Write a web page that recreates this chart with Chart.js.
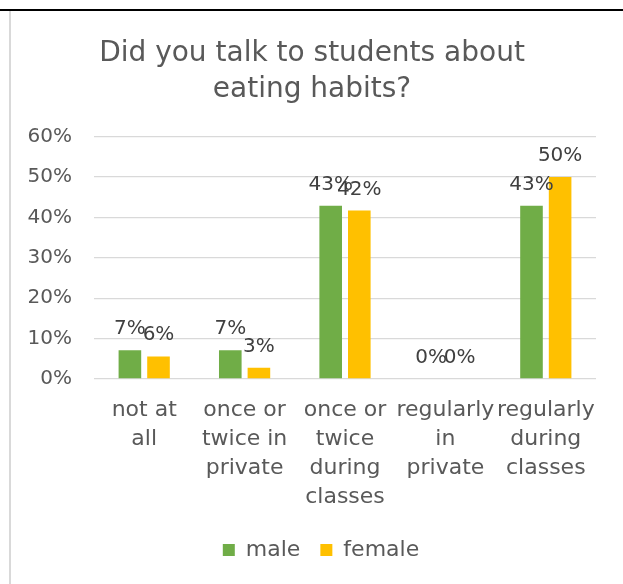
<!DOCTYPE html>
<html>
<head>
<meta charset="utf-8">
<script src="https://cdn.jsdelivr.net/npm/chart.js@4/dist/chart.umd.min.js"></script>
<style>
  html, body { margin: 0; padding: 0; background: #fff; }
  body { width: 623px; height: 584px; position: relative; overflow: hidden; }
  #topline { position: absolute; left: 0; top: 9px; width: 623px; height: 2px; background: #000; }
  #leftline { position: absolute; left: 9px; top: 11px; width: 2px; height: 573px; background: #d9d9d9; }
  #box { position: absolute; left: 11px; top: 12px; width: 612px; height: 572px; }
</style>
</head>
<body>
<div id="topline"></div>
<div id="leftline"></div>
<div id="box"><canvas id="chart-area"></canvas></div>
<script>
var categories = [
    ['not at', 'all'],
    ['once or', 'twice in', 'private'],
    ['once or', 'twice', 'during', 'classes'],
    ['regularly', 'in', 'private'],
    ['regularly', 'during', 'classes']
];
var male = [7.1, 7.1, 42.9, 0, 42.9];
var female = [5.6, 2.8, 41.7, 0, 50.0];
var yTicks = [0, 10, 20, 30, 40, 50, 60];

var textGrey = '#595959';
Chart.defaults.font.family = '"DejaVu Sans", sans-serif';
Chart.defaults.color = textGrey;

// percent labels above every bar
var valueLabels = {
    id: 'valueLabels',
    afterDatasetsDraw: function (chart) {
        var ctx = chart.ctx;
        ctx.save();
        ctx.font = '20px "DejaVu Sans"';
        ctx.fillStyle = '#404040';
        ctx.textAlign = 'center';
        ctx.textBaseline = 'alphabetic';
        chart.data.datasets.forEach(function (ds, i) {
            chart.getDatasetMeta(i).data.forEach(function (bar, j) {
                ctx.fillText(Math.round(ds.data[j]) + '%', bar.x, bar.y - 16);
            });
        });
        ctx.restore();
    }
};

// legend sits a little right of the plot centre in the original
var legendNudge = {
    id: 'legendNudge',
    afterLayout: function (chart) {
        chart.legend.left += 9;
        chart.legend.right += 9;
    }
};

var config = {
    type: 'bar',
    data: {
        labels: categories,
        datasets: [{
            label: 'male',
            data: male,
            backgroundColor: '#70AD47',
            categoryPercentage: 0.57,
            barPercentage: 0.79
        }, {
            label: 'female',
            data: female,
            backgroundColor: '#FFC000',
            categoryPercentage: 0.57,
            barPercentage: 0.79
        }]
    },
    options: {
        responsive: true,
        maintainAspectRatio: false,
        animation: false,
        layout: { padding: { left: 17, right: 27, top: 0, bottom: 13 } },
        plugins: {
            title: {
                display: true,
                text: ['Did you talk to students about', 'eating habits?'],
                color: textGrey,
                font: { size: 28, weight: 'normal', lineHeight: 1.28 },
                padding: { top: 24, bottom: 29 }
            },
            legend: {
                position: 'bottom',
                labels: {
                    boxWidth: 12,
                    boxHeight: 12,
                    padding: 20,
                    color: textGrey,
                    font: { size: 22 }
                }
            },
            tooltip: { enabled: false }
        },
        scales: {
            x: {
                grid: { display: false, drawTicks: false },
                border: { display: false },
                afterFit: function (axis) { axis.height = 140; },
                ticks: {
                    padding: 17,
                    maxRotation: 0,
                    autoSkip: false,
                    color: textGrey,
                    font: { size: 22, lineHeight: 1.32 }
                }
            },
            y: {
                min: 0,
                max: 60,
                afterBuildTicks: function (axis) {
                    axis.ticks = yTicks.map(function (v) { return { value: v }; });
                },
                afterFit: function (axis) { axis.width = 66; },
                grid: { color: '#d9d9d9', lineWidth: 1.3, drawTicks: false },
                border: { display: false },
                ticks: {
                    padding: 22,
                    color: textGrey,
                    font: { size: 20 },
                    callback: function (v) { return v + '%'; }
                }
            }
        }
    },
    plugins: [valueLabels, legendNudge]
};

var ctx = document.getElementById('chart-area').getContext('2d');
window.myBar = new Chart(ctx, config);
</script>
</body>
</html>
